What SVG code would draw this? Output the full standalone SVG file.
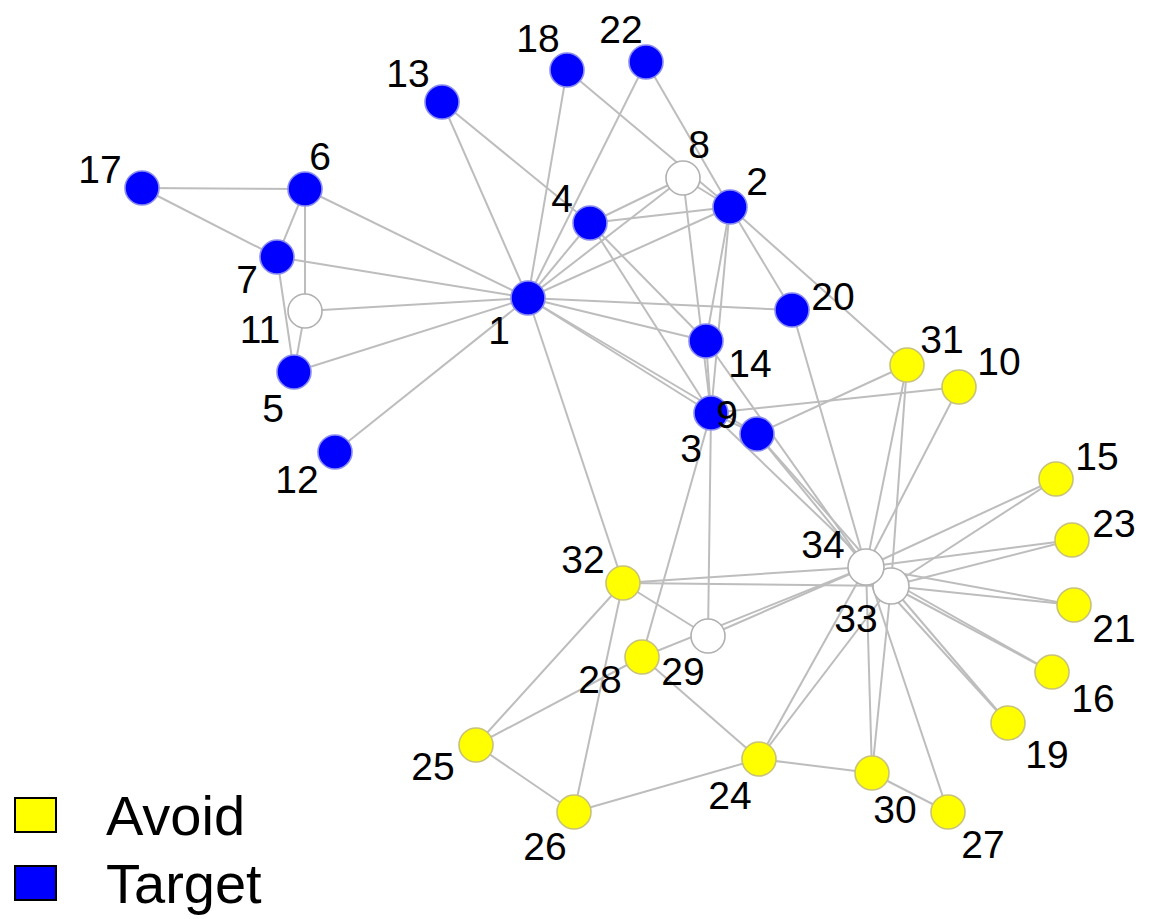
<svg xmlns="http://www.w3.org/2000/svg" width="1150" height="919" viewBox="0 0 1150 919">
  <style>
    .edge { stroke: #bdbdbd; stroke-width: 2; fill: none; }
    .node circle { stroke-width: 1.6; }
    .target circle { fill: #0000ff; stroke: #8a8cf0; }
    .avoid circle { fill: #ffff00; stroke: #c8c27a; }
    .neutral circle { fill: #ffffff; stroke: #b0b0b0; }
    .lbl { font-family: "Liberation Sans", Arial, sans-serif; font-size: 39px; fill: #000; text-anchor: middle; }
    .legend-text { font-family: "Liberation Sans", Arial, sans-serif; font-size: 56px; fill: #000; }
  </style>
  <rect width="1150" height="919" fill="#ffffff"/>

  <!-- connectors -->
  <g id="edges" class="edge">
    <!-- node 1 -->
    <line x1="528" y1="298" x2="730" y2="207"/>
    <line x1="528" y1="298" x2="711" y2="413"/>
    <line x1="528" y1="298" x2="590" y2="223"/>
    <line x1="528" y1="298" x2="294" y2="372"/>
    <line x1="528" y1="298" x2="305" y2="189"/>
    <line x1="528" y1="298" x2="277" y2="257"/>
    <line x1="528" y1="298" x2="683" y2="178"/>
    <line x1="528" y1="298" x2="757" y2="434"/>
    <line x1="528" y1="298" x2="305" y2="311"/>
    <line x1="528" y1="298" x2="335" y2="452"/>
    <line x1="528" y1="298" x2="442" y2="102"/>
    <line x1="528" y1="298" x2="706" y2="341"/>
    <line x1="528" y1="298" x2="567" y2="70"/>
    <line x1="528" y1="298" x2="792" y2="310"/>
    <line x1="528" y1="298" x2="646" y2="62"/>
    <line x1="528" y1="298" x2="623" y2="583"/>
    <!-- node 2 -->
    <line x1="730" y1="207" x2="711" y2="413"/>
    <line x1="730" y1="207" x2="590" y2="223"/>
    <line x1="730" y1="207" x2="683" y2="178"/>
    <line x1="730" y1="207" x2="706" y2="341"/>
    <line x1="730" y1="207" x2="567" y2="70"/>
    <line x1="730" y1="207" x2="792" y2="310"/>
    <line x1="730" y1="207" x2="646" y2="62"/>
    <line x1="730" y1="207" x2="907" y2="365"/>
    <!-- node 3 -->
    <line x1="711" y1="413" x2="590" y2="223"/>
    <line x1="711" y1="413" x2="683" y2="178"/>
    <line x1="711" y1="413" x2="757" y2="434"/>
    <line x1="711" y1="413" x2="959" y2="387"/>
    <line x1="711" y1="413" x2="706" y2="341"/>
    <line x1="711" y1="413" x2="642" y2="657"/>
    <line x1="711" y1="413" x2="708" y2="636"/>
    <line x1="711" y1="413" x2="891" y2="586"/>
    <!-- node 4 -->
    <line x1="590" y1="223" x2="683" y2="178"/>
    <line x1="590" y1="223" x2="442" y2="102"/>
    <line x1="590" y1="223" x2="706" y2="341"/>
    <!-- nodes 5, 6, 7 -->
    <line x1="294" y1="372" x2="277" y2="257"/>
    <line x1="294" y1="372" x2="305" y2="311"/>
    <line x1="305" y1="189" x2="277" y2="257"/>
    <line x1="305" y1="189" x2="305" y2="311"/>
    <line x1="305" y1="189" x2="142" y2="188"/>
    <line x1="277" y1="257" x2="142" y2="188"/>
    <!-- node 9 -->
    <line x1="757" y1="434" x2="907" y2="365"/>
    <line x1="757" y1="434" x2="891" y2="586"/>
    <line x1="757" y1="434" x2="866" y2="567"/>
    <!-- hub connections -->
    <line x1="959" y1="387" x2="866" y2="567"/>
    <line x1="706" y1="341" x2="866" y2="567"/>
    <line x1="1056" y1="479" x2="891" y2="586"/>
    <line x1="1056" y1="479" x2="866" y2="567"/>
    <line x1="1052" y1="672" x2="891" y2="586"/>
    <line x1="1052" y1="672" x2="866" y2="567"/>
    <line x1="1008" y1="723" x2="891" y2="586"/>
    <line x1="1008" y1="723" x2="866" y2="567"/>
    <line x1="792" y1="310" x2="866" y2="567"/>
    <line x1="1074" y1="605" x2="891" y2="586"/>
    <line x1="1074" y1="605" x2="866" y2="567"/>
    <line x1="1072" y1="540" x2="891" y2="586"/>
    <line x1="1072" y1="540" x2="866" y2="567"/>
    <!-- node 24 -->
    <line x1="759" y1="759" x2="574" y2="812"/>
    <line x1="759" y1="759" x2="642" y2="657"/>
    <line x1="759" y1="759" x2="872" y2="773"/>
    <line x1="759" y1="759" x2="891" y2="586"/>
    <line x1="759" y1="759" x2="866" y2="567"/>
    <!-- nodes 25 .. 32 -->
    <line x1="476" y1="745" x2="574" y2="812"/>
    <line x1="476" y1="745" x2="642" y2="657"/>
    <line x1="476" y1="745" x2="623" y2="583"/>
    <line x1="574" y1="812" x2="623" y2="583"/>
    <line x1="948" y1="812" x2="872" y2="773"/>
    <line x1="948" y1="812" x2="866" y2="567"/>
    <line x1="642" y1="657" x2="866" y2="567"/>
    <line x1="708" y1="636" x2="623" y2="583"/>
    <line x1="708" y1="636" x2="866" y2="567"/>
    <line x1="872" y1="773" x2="891" y2="586"/>
    <line x1="872" y1="773" x2="866" y2="567"/>
    <line x1="907" y1="365" x2="891" y2="586"/>
    <line x1="907" y1="365" x2="866" y2="567"/>
    <line x1="623" y1="583" x2="891" y2="586"/>
    <line x1="623" y1="583" x2="866" y2="567"/>
    <line x1="891" y1="586" x2="866" y2="567"/>
  </g>

  <!-- nodes -->
  <g id="node-1" class="node target"><circle cx="528" cy="298" r="17"/><text class="lbl" x="499" y="344">1</text></g>
  <g id="node-2" class="node target"><circle cx="730" cy="207" r="17"/><text class="lbl" x="757" y="195">2</text></g>
  <g id="node-3" class="node target"><circle cx="711" cy="413" r="17"/><text class="lbl" x="691" y="462">3</text></g>
  <g id="node-4" class="node target"><circle cx="590" cy="223" r="17"/><text class="lbl" x="562" y="212">4</text></g>
  <g id="node-5" class="node target"><circle cx="294" cy="372" r="17"/><text class="lbl" x="273" y="422">5</text></g>
  <g id="node-6" class="node target"><circle cx="305" cy="189" r="17"/><text class="lbl" x="320" y="170">6</text></g>
  <g id="node-7" class="node target"><circle cx="277" cy="257" r="17"/><text class="lbl" x="247" y="293">7</text></g>
  <g id="node-8" class="node neutral"><circle cx="683" cy="178" r="17"/><text class="lbl" x="699" y="158">8</text></g>
  <g id="node-9" class="node target"><circle cx="757" cy="434" r="17"/><text class="lbl" x="727" y="428">9</text></g>
  <g id="node-10" class="node avoid"><circle cx="959" cy="387" r="17"/><text class="lbl" x="999" y="375">10</text></g>
  <g id="node-11" class="node neutral"><circle cx="305" cy="311" r="17"/><text class="lbl" x="260" y="343">11</text></g>
  <g id="node-12" class="node target"><circle cx="335" cy="452" r="17"/><text class="lbl" x="297" y="493">12</text></g>
  <g id="node-13" class="node target"><circle cx="442" cy="102" r="17"/><text class="lbl" x="408" y="87">13</text></g>
  <g id="node-14" class="node target"><circle cx="706" cy="341" r="17"/><text class="lbl" x="750" y="377">14</text></g>
  <g id="node-15" class="node avoid"><circle cx="1056" cy="479" r="17"/><text class="lbl" x="1097" y="470">15</text></g>
  <g id="node-16" class="node avoid"><circle cx="1052" cy="672" r="17"/><text class="lbl" x="1093" y="712">16</text></g>
  <g id="node-17" class="node target"><circle cx="142" cy="188" r="17"/><text class="lbl" x="100" y="183">17</text></g>
  <g id="node-18" class="node target"><circle cx="567" cy="70" r="17"/><text class="lbl" x="538" y="52">18</text></g>
  <g id="node-19" class="node avoid"><circle cx="1008" cy="723" r="17"/><text class="lbl" x="1047" y="768">19</text></g>
  <g id="node-20" class="node target"><circle cx="792" cy="310" r="17"/><text class="lbl" x="833" y="310">20</text></g>
  <g id="node-21" class="node avoid"><circle cx="1074" cy="605" r="17"/><text class="lbl" x="1114" y="642">21</text></g>
  <g id="node-22" class="node target"><circle cx="646" cy="62" r="17"/><text class="lbl" x="621" y="43">22</text></g>
  <g id="node-23" class="node avoid"><circle cx="1072" cy="540" r="17"/><text class="lbl" x="1114" y="537">23</text></g>
  <g id="node-24" class="node avoid"><circle cx="759" cy="759" r="17"/><text class="lbl" x="730" y="809">24</text></g>
  <g id="node-25" class="node avoid"><circle cx="476" cy="745" r="17"/><text class="lbl" x="433" y="780">25</text></g>
  <g id="node-26" class="node avoid"><circle cx="574" cy="812" r="17"/><text class="lbl" x="545" y="860">26</text></g>
  <g id="node-27" class="node avoid"><circle cx="948" cy="812" r="17"/><text class="lbl" x="983" y="858">27</text></g>
  <g id="node-28" class="node avoid"><circle cx="642" cy="657" r="17"/><text class="lbl" x="600" y="693">28</text></g>
  <g id="node-29" class="node neutral"><circle cx="708" cy="636" r="17"/><text class="lbl" x="683" y="685">29</text></g>
  <g id="node-30" class="node avoid"><circle cx="872" cy="773" r="17"/><text class="lbl" x="895" y="823">30</text></g>
  <g id="node-31" class="node avoid"><circle cx="907" cy="365" r="17"/><text class="lbl" x="942" y="353">31</text></g>
  <g id="node-32" class="node avoid"><circle cx="623" cy="583" r="17"/><text class="lbl" x="583" y="573">32</text></g>
  <g id="node-33" class="node neutral"><circle cx="891" cy="586" r="18"/><text class="lbl" x="856" y="632">33</text></g>
  <g id="node-34" class="node neutral"><circle cx="866" cy="567" r="18"/><text class="lbl" x="823" y="558">34</text></g>

  <!-- legend -->
  <g id="legend">
    <rect x="15" y="798" width="41" height="34" fill="#ffff00" stroke="#000" stroke-width="2"/>
    <text class="legend-text" x="106" y="835">Avoid</text>
    <rect x="15" y="866" width="41" height="34" fill="#0000ff" stroke="#000" stroke-width="2"/>
    <text class="legend-text" x="106" y="903">Target</text>
  </g>
</svg>
